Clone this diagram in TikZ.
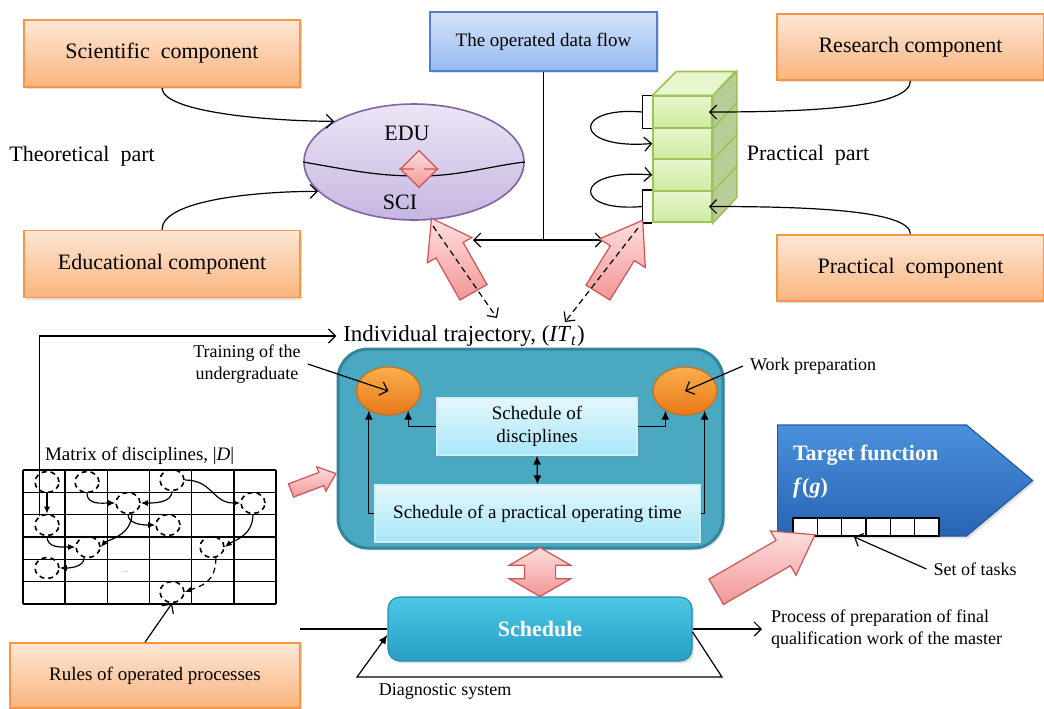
\documentclass[tikz,border=0pt]{standalone}
\usepackage{fontspec}
\setmainfont{Liberation Serif}
\usetikzlibrary{shapes.geometric,shapes.arrows,shapes.symbols,arrows.meta,calc,shadows}

\definecolor{compTop}{RGB}{253,231,214}
\definecolor{compBot}{RGB}{250,180,125}
\definecolor{compLine}{RGB}{247,150,70}
\definecolor{flowTop}{RGB}{214,228,250}
\definecolor{flowBot}{RGB}{150,186,240}
\definecolor{flowLine}{RGB}{79,129,210}
\definecolor{eduTop}{RGB}{236,229,246}
\definecolor{eduBot}{RGB}{198,182,225}
\definecolor{eduLine}{RGB}{128,100,162}
\definecolor{cubeTop}{RGB}{232,246,205}
\definecolor{cubeBot}{RGB}{205,235,160}
\definecolor{cubeSide}{RGB}{185,205,150}
\definecolor{cubeLine}{RGB}{155,195,85}
\definecolor{pinkTop}{RGB}{255,222,222}
\definecolor{pinkBot}{RGB}{242,150,150}
\definecolor{pinkLine}{RGB}{205,85,85}
\definecolor{tealFill}{RGB}{75,168,193}
\definecolor{tealLine}{RGB}{49,133,156}
\definecolor{ballTop}{RGB}{250,175,75}
\definecolor{ballBot}{RGB}{232,120,25}
\definecolor{ballLine}{RGB}{200,110,30}
\definecolor{skyTop}{RGB}{228,248,253}
\definecolor{skyBot}{RGB}{168,230,248}
\definecolor{skyLine}{RGB}{205,238,248}
\definecolor{schedTop}{RGB}{75,200,228}
\definecolor{schedBot}{RGB}{38,158,198}
\definecolor{schedLine}{RGB}{40,140,175}
\definecolor{goalTop}{RGB}{75,145,220}
\definecolor{goalBot}{RGB}{40,100,180}
\definecolor{goalLine}{RGB}{35,90,160}

\tikzset{
  softshadow/.style={drop shadow={opacity=0.25, shadow xshift=1pt, shadow yshift=-1.2pt}},
  comp/.style={draw=compLine, line width=0.8pt, top color=compTop, bottom color=compBot, softshadow, minimum width=138pt, minimum height=33.5pt, font=\fontsize{11}{13}\selectfont},
  lbl/.style={font=\fontsize{11}{13}\selectfont},
  note/.style={font=\fontsize{9}{11}\selectfont, align=center},
  pinkarrow/.style={single arrow, draw=pinkLine, line width=0.6pt, top color=pinkTop, bottom color=pinkBot, inner xsep=0pt},
  pinkboth/.style={double arrow, draw=pinkLine, line width=0.6pt, top color=pinkTop, bottom color=pinkBot, inner xsep=0pt},
  cube/.style={draw=cubeLine, line width=0.8pt, top color=cubeTop, bottom color=cubeBot, minimum width=29.5pt, minimum height=15.75pt, inner sep=0pt},
  skybox/.style={draw=skyLine, line width=0.6pt, top color=skyTop, bottom color=skyBot, softshadow, minimum height=28.5pt, font=\fontsize{9.5}{11.5}\selectfont, align=center},
  ball/.style={ellipse, draw=ballLine, line width=0.6pt, top color=ballTop, bottom color=ballBot, minimum width=32pt, minimum height=24pt},
  dcirc/.style={ellipse, draw, line width=0.8pt, dash pattern=on 2.5pt off 2pt, minimum width=12pt, minimum height=10.5pt, inner sep=0pt},
  task/.style={draw, line width=0.8pt, fill=white, minimum width=12.2pt, minimum height=9pt, inner sep=0pt},
  con/.style={line width=0.6pt, -{Straight Barb[length=3.5pt,width=7pt]}},
  bicon/.style={line width=0.6pt, {Straight Barb[length=3.5pt,width=7pt]}-{Straight Barb[length=3.5pt,width=7pt]}},
  dcon/.style={con, dash pattern=on 3pt off 2pt},
  fcon/.style={line width=0.6pt, -{Latex[length=4.5pt,width=4pt]}},
  mcon/.style={line width=0.6pt, -{Latex[length=3.5pt,width=3pt]}},
}

\begin{document}
\begin{tikzpicture}[x=0.5pt, y=-0.5pt]
\useasboundingbox (0,0) rectangle (1044,708);

% Theoretical part
\node[comp] (sci) at (162,53.5) {Scientific\ \ component};
\node[comp] (educ) at (162,264) {Educational component};
\node[lbl] (theo) at (82,156) {Theoretical\ \ part};
\node[ellipse, draw=eduLine, line width=0.8pt, top color=eduTop, bottom color=eduBot, minimum width=110pt, minimum height=58pt] (ell) at (414,162) {};
\node[lbl] (edu) at (407,133) {EDU};
\node[lbl] (scitxt) at (400,202) {SCI};
\draw[line width=0.6pt] (ell.west) .. controls (360,172) and (380,176) .. (420,176) .. controls (460,176) and (490,166) .. (ell.east);
\node[pinkboth, rotate=90, minimum height=18.5pt, inner ysep=2.5pt, double arrow head extend=6.5pt] (swap) at (419,169) {};
\draw[con] (sci.south) .. controls +(0,25) and +(-60,0) .. (ell.153);
\draw[con] (educ.north) .. controls +(0,-30) and +(-60,0) .. (ell.197);

% Data flow
\node[draw=flowLine, line width=0.8pt, top color=flowTop, bottom color=flowBot, softshadow, minimum width=113.5pt, minimum height=29.5pt, font=\fontsize{9.5}{11.5}\selectfont] (flow) at (543.5,41.5) {The operated data flow};
\coordinate (fl) at (473,240);
\coordinate (fr) at (603,240);
\draw[line width=0.6pt] (flow.south) -- (flow.south |- fl);
\draw[bicon] (fl) -- (fr);

% Practical part: stack of cubes
\foreach \k/\yy in {4/206.5,3/175,2/143.5,1/112}{
  \node[cube] (c\k) at (682.5,\yy) {};
  \filldraw[fill=cubeSide, draw=cubeLine, line width=0.8pt] (c\k.north east) -- ++(24,-24) -- ++(0,31.5) -- (c\k.south east) -- cycle;
}
\filldraw[fill=cubeTop, draw=cubeLine, line width=0.8pt] (c1.north west) -- ++(24,-24) -- ++(59,0) -- (c1.north east) -- cycle;
\coordinate (b1) at ($(c1.west)+(-10,0)$);
\coordinate (b4) at ($(c4.west)+(-10,0)$);
\draw[line width=0.6pt] (c1.north west) -| (b1) |- (c1.south west);
\draw[line width=0.6pt] (c4.north west) -| (b4) |- (c4.south west);
\draw[con] (b1) .. controls (572,106) and (572,150) .. (c2.west);
\draw[con] (b4) .. controls (572,213) and (572,168) .. (c3.west);

\node[comp, minimum width=133.5pt, minimum height=33pt] (res) at (910.5,47) {Research component};
\node[comp, minimum width=133.5pt, minimum height=33pt] (prac) at (910.5,268) {Practical\ \ component};
\node[lbl] (pracpart) at (808,155) {Practical\ \ part};
\draw[con] (res.south) .. controls +(0,28) and +(90,0) .. ($(c1.east)+(-4,0)$);
\draw[con] (prac.north) .. controls +(0,-25) and +(90,0) .. ($(c4.east)+(-4,0)$);

% Block arrows and trajectory
\node[pinkarrow, minimum height=42.5pt, inner ysep=7.5pt, single arrow head extend=5pt, single arrow tip angle=70, rotate=119.6] (upl) at (458,265) {};
\node[pinkarrow, minimum height=42.5pt, inner ysep=6.75pt, single arrow head extend=6.5pt, single arrow tip angle=70, rotate=58.2] (upr) at (615,265) {};
\coordinate (dl0) at (433,226);
\coordinate (dl1) at (497,318);
\coordinate (dr0) at (638,228);
\coordinate (dr1) at (565,322);
\draw[dcon] (dl0) -- (dl1);
\draw[dcon] (dr0) -- (dr1);
\node[font=\fontsize{11.5}{14}\selectfont] (traj) at (464,336) {Individual trajectory, (\textit{IT}\textsubscript{\textit{t}})};

% Core block
\node[draw=tealLine, line width=1.5pt, fill=tealFill, rounded corners=15pt, softshadow, minimum width=192.5pt, minimum height=99.5pt] (core) at (530.5,448.5) {};
\node[ball] (oel1) at (388.5,391) {};
\node[ball] (oel2) at (685,391) {};
\node[skybox, minimum width=100pt] (disc) at (537,426.5) {Schedule of\\disciplines};
\node[skybox, minimum width=162.5pt] (pract) at (537.5,513.5) {Schedule of a practical operating time};
\draw[fcon] (disc.west) -| (oel1.-45);
\draw[fcon] (pract.west) -| (oel1.225);
\draw[fcon] (disc.east) -| (oel2.225);
\draw[fcon] (pract.east) -| (oel2.-45);
\draw[line width=0.6pt, {Latex[length=4.5pt,width=4pt]}-{Latex[length=4.5pt,width=4pt]}] (disc.south) -- (pract.north);
\node[note] (train) at (247,364) {Training of the\\undergraduate};
\draw[con] (train.east) -- (oel1.center);
\node[note] (work) at (813,366) {Work preparation};
\draw[con] (work.west) -- (oel2.center);

% Matrix of disciplines
\node[font=\fontsize{9.5}{11}\selectfont, anchor=west] (mlbl) at (38,456) {Matrix of disciplines, |\textit{D}|};
\foreach \i in {0,...,6}
  \draw[line width=0.7pt] (23+42.17*\i,470) -- (23+42.17*\i,604);
\foreach \j in {0,...,6}
  \draw[line width=0.7pt] (23,470+22.33*\j) -- (276,470+22.33*\j);
\foreach \n/\x/\y in {1/47/482, 2/87/482, 3/172/480, 4/128/503, 5/253/503, 6/47/525, 7/168/525, 8/88/547, 9/212/547, 10/47/568, 11/172/592}
  \node[dcirc] (d\n) at (\x,\y) {};
\node[font=\fontsize{4}{4}\selectfont, text=gray] (dots) at (125,572) {...};
\draw[mcon] (d1.south) -- (d6.north);
\draw[mcon] (d2.south) .. controls +(0,12) and +(-12,0) .. (d4.west);
\draw[mcon] (d3.south) .. controls +(0,12) and +(12,0) .. (d4.east);
\draw[mcon] (d3.east) .. controls +(28,0) and +(-28,0) .. (d5.west);
\draw[mcon] (d4.south) .. controls +(0,10) and +(-12,0) .. (d7.west);
\draw[mcon] (d4.-70) .. controls +(0,22) and +(5,-6) .. (d8.east);
\draw[mcon] (d6.south) .. controls +(0,12) and +(-14,0) .. (d8.west);
\draw[mcon] (d8.-110) .. controls +(0,10) and +(8,0) .. (d10.east);
\draw[mcon] (d5.south) .. controls +(0,22) and +(8,-6) .. (d9.east);
\draw[mcon, dash pattern=on 3pt off 2pt] (d9.-70) .. controls +(0,25) and +(16,-6) .. (d11.east);
\draw[con] (d6.130) |- (traj.west);
\node[pinkarrow, minimum height=24pt, inner ysep=3.25pt, single arrow head extend=3pt, single arrow tip angle=80, rotate=20.7] (tocore) at (309.5,483.5) {};

% Rules
\node[comp, minimum width=145pt, minimum height=32.5pt, font=\fontsize{9.5}{11}\selectfont] (rules) at (155,675.5) {Rules of operated processes};
\draw[con] ($(rules.north)+(-10,0)$) -- (d11.south);

% Schedule
\node[pinkboth, rotate=90, minimum height=24.5pt, inner ysep=7.5pt, double arrow head extend=7.5pt, double arrow tip angle=120] (vlink) at (540,572) {};
\node[draw=schedLine, line width=0.6pt, top color=schedTop, bottom color=schedBot, softshadow, rounded corners=6pt, minimum width=152pt, minimum height=32pt, text=white, font=\bfseries\fontsize{11}{13}\selectfont] (sched) at (540,629) {Schedule};
\coordinate (inl) at (300,629);
\draw[line width=0.6pt] (inl) -- (sched.west);
\coordinate (outp) at (762,629);
\draw[con] (sched.east) -- (outp);
\node[note, anchor=west, align=left] (proc) at (764,629) {Process of preparation of final\\qualification work of the master};
\coordinate (dg1) at (722,677);
\coordinate (dg2) at (357,677);
\draw[fcon] ($(sched.east)+(0,3)$) -- (dg1) -- (dg2) -- ($(sched.west)+(0,6)$);
\node[note] (diag) at (445,691) {Diagnostic system};

% Target function
\node[signal, signal to=east, signal from=nowhere, signal pointer angle=80, draw=goalLine, line width=0.6pt, top color=goalTop, bottom color=goalBot, softshadow, minimum width=127.5pt, minimum height=55.5pt, inner sep=0pt, anchor=west] (goal) at (777,480.5) {};
\node[anchor=west, text=white, font=\bfseries\fontsize{11}{13}\selectfont] (goaltxt) at (786,455) {Target function};
\node[anchor=west, text=white, font=\bfseries\fontsize{11}{13}\selectfont] (goalf) at (786,488) {\textit{f}(\textit{g})};
\foreach \i in {0,...,5}
  \node[task] (t\i) at (805.2+24.33*\i,527) {};
\node[note] (settasks) at (975,569) {Set of tasks};
\draw[con] (settasks.west) -- (t2.south);
\node[pinkarrow, minimum height=57pt, inner ysep=7pt, single arrow head extend=5.5pt, single arrow tip angle=70, rotate=30] (togoal) at (756.5,568.5) {};

\end{tikzpicture}
\end{document}
